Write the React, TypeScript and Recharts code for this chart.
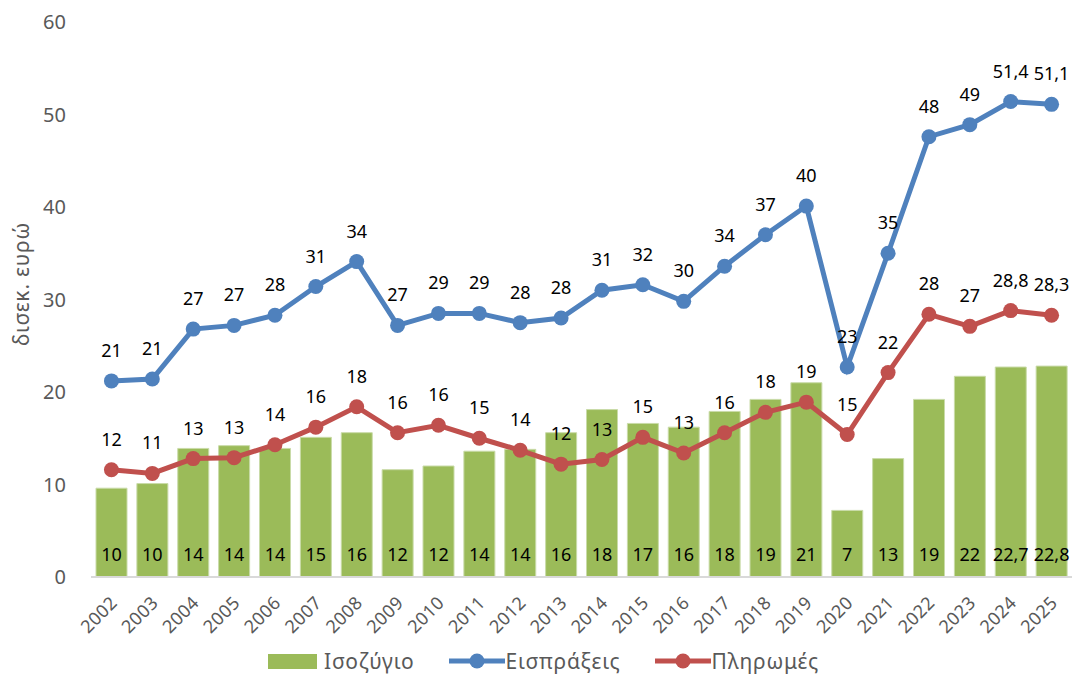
import React from 'react';
import { ComposedChart, Bar, Line, XAxis, YAxis, Legend, LabelList, Label } from 'recharts';

const years = ['2002','2003','2004','2005','2006','2007','2008','2009','2010','2011','2012','2013','2014','2015','2016','2017','2018','2019','2020','2021','2022','2023','2024','2025'];
const balance = [9.6,10.1,13.9,14.2,13.9,15.1,15.6,11.6,12.0,13.6,13.8,15.6,18.1,16.6,16.2,17.9,19.2,21.0,7.2,12.8,19.2,21.7,22.7,22.8];
const receipts = [21.2,21.4,26.8,27.2,28.3,31.4,34.1,27.2,28.5,28.5,27.5,28.0,31.0,31.6,29.8,33.6,37.0,40.1,22.7,35.0,47.6,48.9,51.4,51.1];
const payments = [11.6,11.2,12.8,12.9,14.3,16.2,18.4,15.6,16.4,15.0,13.7,12.2,12.7,15.1,13.4,15.6,17.8,18.9,15.4,22.1,28.4,27.1,28.8,28.3];
const decimalYears = ['2024','2025'];
const yTicks = [0,10,20,30,40,50,60];

const data = years.map((y, i) => ({ year: y, balance: balance[i], receipts: receipts[i], payments: payments[i] }));

const FONT = '"Noto Sans", sans-serif';
const GREEN = '#9BBB59';
const BLUE = '#4F81BD';
const RED = '#C0504D';
const GRAY = '#595959';

const fmt = (v: number, i: number) => {
  if (decimalYears.includes(years[i])) return v.toFixed(1).replace('.', ',');
  return String(Math.round(v));
};

const LineLabel = (props: any) => {
  const { x, y, value, index } = props;
  return (
    <text x={x} y={y - 31} textAnchor="middle" dominantBaseline="central" fontSize={18} fill="#000" fontFamily={FONT}>
      {fmt(value, index)}
    </text>
  );
};

const BarLabel = (props: any) => {
  const { x, y, width, height, value, index } = props;
  return (
    <text x={x + width / 2} y={y + height - 23} textAnchor="middle" dominantBaseline="central" fontSize={18} fill="#000" fontFamily={FONT}>
      {fmt(value, index)}
    </text>
  );
};

const XTick = (props: any) => {
  const { x, y, payload } = props;
  const tx = x + 7;
  const ty = y + 19;
  return (
    <text x={tx} y={ty} transform={`rotate(-45, ${tx}, ${ty})`} textAnchor="end" fontSize={18} fill={GRAY} fontFamily={FONT} letterSpacing={0.4}>
      {payload.value}
    </text>
  );
};

const YLabel = () => (
  <text x={21} y={284} transform="rotate(-90, 21, 284)" textAnchor="middle" dominantBaseline="central" fontSize={21} fill={GRAY} fontFamily={FONT} letterSpacing={0.8}>
    δισεκ. ευρώ
  </text>
);

const legendItems = [
  { name: 'Ισοζύγιο', type: 'bar', color: GREEN },
  { name: 'Εισπράξεις', type: 'line', color: BLUE },
  { name: 'Πληρωμές', type: 'line', color: RED },
];

const LegendContent = () => (
  <div style={{ display: 'flex', justifyContent: 'center', alignItems: 'center', gap: 34, fontFamily: FONT, fontSize: 21, letterSpacing: 0.8, lineHeight: '26px', color: GRAY, paddingLeft: 15, paddingTop: 9, boxSizing: 'border-box' }}>
    {legendItems.map((it) => (
      <div key={it.name} style={{ display: 'flex', alignItems: 'center' }}>
        {it.type === 'bar' ? (
          <svg width={49} height={15} style={{ marginRight: 7 }}>
            <rect x={0} y={0} width={49} height={15} fill={it.color} />
          </svg>
        ) : (
          <svg width={56} height={16} style={{ marginRight: 1 }}>
            <line x1={0} y1={8} x2={56} y2={8} stroke={it.color} strokeWidth={5} />
            <circle cx={28} cy={8} r={7.5} fill={it.color} />
          </svg>
        )}
        <span>{it.name}</span>
      </div>
    ))}
  </div>
);

export default function App() {
  return (
    <div style={{ width: 1091, height: 675, background: '#fff' }}>
      <style>{`body{margin:0;}`}</style>
      <ComposedChart width={1091} height={675} data={data} margin={{ top: 22, right: 19, bottom: 0, left: 0 }}>
        <XAxis dataKey="year" tick={<XTick />} interval={0} tickLine={false} axisLine={{ stroke: '#D9D9D9', strokeWidth: 2 }} height={62} />
        <YAxis domain={[0, 60]} ticks={yTicks} width={91} tickLine={false} axisLine={false} tickMargin={19}
          tick={{ fontSize: 20, fill: GRAY, fontFamily: FONT }}>
          <Label content={<YLabel />} />
        </YAxis>
        <Legend verticalAlign="bottom" height={36} content={<LegendContent />} />
        <Bar dataKey="balance" name="Ισοζύγιο" fill={GREEN} stroke="#C9DBA8" strokeWidth={1} barSize={31} isAnimationActive={false}>
          <LabelList dataKey="balance" content={<BarLabel />} />
        </Bar>
        <Line dataKey="receipts" name="Εισπράξεις" stroke={BLUE} strokeWidth={5} dot={{ r: 7.5, fill: BLUE, stroke: BLUE, strokeWidth: 0 }} isAnimationActive={false}>
          <LabelList dataKey="receipts" content={<LineLabel />} />
        </Line>
        <Line dataKey="payments" name="Πληρωμές" stroke={RED} strokeWidth={5} dot={{ r: 7.5, fill: RED, stroke: RED, strokeWidth: 0 }} isAnimationActive={false}>
          <LabelList dataKey="payments" content={<LineLabel />} />
        </Line>
      </ComposedChart>
    </div>
  );
}
